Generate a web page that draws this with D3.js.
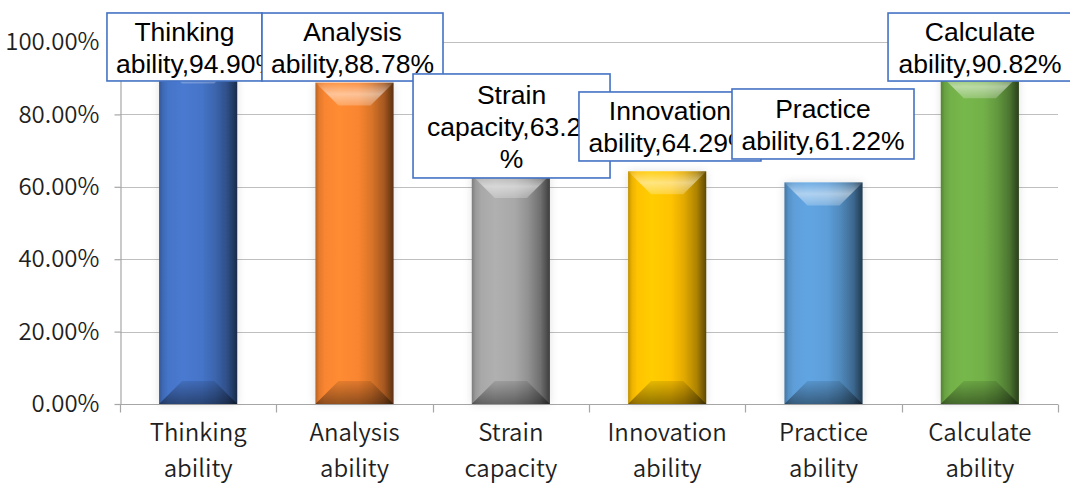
<!DOCTYPE html>
<html>
<head>
<meta charset="utf-8">
<script src="https://cdn.jsdelivr.net/npm/d3@7"></script>
<style>
  html, body { margin: 0; padding: 0; background: #ffffff; }
  svg { display: block; }
</style>
</head>
<body>
<svg id="chart" width="1070" height="483"></svg>
<script>
// ---- data ----
const categories = ["Thinking ability", "Analysis ability", "Strain capacity",
                    "Innovation ability", "Practice ability", "Calculate ability"];
const values = [0.9490, 0.8878, 0.6327, 0.6429, 0.6122, 0.9082];
const barColors = ["#4472C4", "#F5832F", "#A5A5A5", "#FFC000", "#5B9BD5", "#70AD47"];
const yTicks = [0, 0.2, 0.4, 0.6, 0.8, 1.0];

// ---- data-label callout placement, relative to each bar's top centre ----
const labelLayout = [
  { dx: -13.7, dy: -47.5,  w: 155, h: 68 },
  { dx: -2.0,  dy: -69.6,  w: 181, h: 68 },
  { dx: 0.7,   dy: -101.0, w: 197, h: 104, splitPct: true },
  { dx: 2.8,   dy: -79.3,  w: 182, h: 69 },
  { dx: -0.5,  dy: -93.4,  w: 182, h: 70 },
  { dx: 0.2,   dy: -62.2,  w: 184, h: 68 }
];

const svg = d3.select("#chart");
const margin = { left: 120, right: 12, top: 42, bottom: 79 };
const W = 1070, H = 483;

const x = d3.scaleBand()
  .domain(categories)
  .range([margin.left, W - margin.right])
  .paddingInner(0.5)
  .paddingOuter(0.25);

const y = d3.scaleLinear()
  .domain([0, 1])
  .range([H - margin.bottom, margin.top]);

const pct = d3.format(".2%");
const data = categories.map((c, i) => ({ cat: c, v: values[i], color: barColors[i], i }));
const axisFont = "'Noto Sans CJK SC', 'Noto Sans', sans-serif";

// ---- defs: bar face gradients, bevel overlays, soft shadow ----
const defs = svg.append("defs");

data.forEach(d => {
  const base = d3.color(d.color);
  const g = defs.append("linearGradient")
    .attr("id", "face" + d.i)
    .attr("x1", "0%").attr("x2", "100%").attr("y1", "0%").attr("y2", "0%");
  const stops = [
    [0.00, base.darker(0.8)],
    [0.05, base.darker(0.2)],
    [0.12, base.brighter(0.05)],
    [0.30, base.brighter(0.18)],
    [0.55, base.brighter(0.05)],
    [0.72, base.darker(0.35)],
    [0.88, base.darker(1.1)],
    [1.00, base.darker(2.8)]
  ];
  stops.forEach(([o, c]) => g.append("stop").attr("offset", o).attr("stop-color", c.formatHex()));
});

const hi = defs.append("linearGradient").attr("id", "bevelTop")
  .attr("x1", "0%").attr("x2", "0%").attr("y1", "0%").attr("y2", "100%");
hi.append("stop").attr("offset", 0).attr("stop-color", "#fff").attr("stop-opacity", 0.1);
hi.append("stop").attr("offset", 0.5).attr("stop-color", "#fff").attr("stop-opacity", 0.5);
hi.append("stop").attr("offset", 1).attr("stop-color", "#fff").attr("stop-opacity", 0.22);

const lo = defs.append("linearGradient").attr("id", "bevelBot")
  .attr("x1", "0%").attr("x2", "0%").attr("y1", "0%").attr("y2", "100%");
lo.append("stop").attr("offset", 0).attr("stop-color", "#000").attr("stop-opacity", 0.1);
lo.append("stop").attr("offset", 1).attr("stop-color", "#000").attr("stop-opacity", 0.42);

const sh = defs.append("filter").attr("id", "shadow")
  .attr("x", "-30%").attr("y", "-10%").attr("width", "160%").attr("height", "120%");
sh.append("feGaussianBlur").attr("in", "SourceAlpha").attr("stdDeviation", 4).attr("result", "b");
sh.append("feFlood").attr("flood-color", "#000").attr("flood-opacity", 0.12).attr("result", "f");
sh.append("feComposite").attr("in", "f").attr("in2", "b").attr("operator", "in").attr("result", "s");
const mg = sh.append("feMerge");
mg.append("feMergeNode").attr("in", "s");
mg.append("feMergeNode").attr("in", "SourceGraphic");

// ---- gridlines ----
const crisp = v => Math.round(v) + 0.5;
svg.append("g").selectAll("line")
  .data(yTicks.filter(t => t > 0))
  .join("line")
  .attr("x1", margin.left).attr("x2", W - margin.right)
  .attr("y1", d => crisp(y(d))).attr("y2", d => crisp(y(d)))
  .attr("stroke", "#BFBFBF").attr("stroke-width", 1.2);

// ---- y axis ----
const yAxis = svg.append("g")
  .attr("transform", `translate(${crisp(margin.left)},0)`)
  .call(d3.axisLeft(y).tickValues(yTicks).tickFormat(pct).tickSize(6).tickSizeOuter(0).tickPadding(15));
yAxis.select(".domain").attr("stroke", "#A6A6A6").attr("stroke-width", 1.2);
yAxis.selectAll(".tick line").attr("stroke", "#A6A6A6").attr("stroke-width", 1.2);
yAxis.selectAll(".tick text")
  .attr("font-family", axisFont).attr("font-weight", 350)
  .attr("font-size", 24).attr("fill", "#1f1f1f");

// ---- x axis ----
const xAxis = svg.append("g").attr("transform", `translate(0,${crisp(y(0))})`);
xAxis.append("line")
  .attr("x1", margin.left).attr("x2", W - margin.right)
  .attr("stroke", "#A6A6A6").attr("stroke-width", 1.2);
const gap = (x.step() - x.bandwidth()) / 2;
const bounds = categories.map(c => x(c) - gap)
  .concat([x(categories[categories.length - 1]) + x.bandwidth() + gap]);
xAxis.selectAll("line.tk").data(bounds).join("line").attr("class", "tk")
  .attr("x1", d => crisp(d)).attr("x2", d => crisp(d))
  .attr("y1", 0).attr("y2", 8)
  .attr("stroke", "#A6A6A6").attr("stroke-width", 1.2);
const xl = xAxis.selectAll("text").data(categories).join("text")
  .attr("text-anchor", "middle")
  .attr("font-family", axisFont).attr("font-weight", 350)
  .attr("font-size", 24).attr("fill", "#1f1f1f");
xl.each(function(c) {
  const t = d3.select(this);
  const cx = x(c) + x.bandwidth() / 2;
  c.split(" ").forEach((w, k) => {
    t.append("tspan").attr("x", cx).attr("y", 36 + k * 36).text(w);
  });
});

// ---- bars ----
const bev = 23;
const barG = svg.append("g").selectAll("g").data(data).join("g");
barG.append("rect")
  .attr("x", d => x(d.cat)).attr("y", d => y(d.v))
  .attr("width", x.bandwidth()).attr("height", d => y(0) - y(d.v))
  .attr("fill", d => `url(#face${d.i})`)
  .attr("filter", "url(#shadow)");
barG.append("path")
  .attr("d", d => {
    const a = x(d.cat), b = a + x.bandwidth(), t = y(d.v);
    return `M${a},${t}H${b}L${b - bev},${t + bev}H${a + bev}Z`;
  })
  .attr("fill", "url(#bevelTop)");
barG.append("path")
  .attr("d", d => {
    const a = x(d.cat), b = a + x.bandwidth(), t = y(0);
    return `M${a},${t}H${b}L${b - bev},${t - bev}H${a + bev}Z`;
  })
  .attr("fill", "url(#bevelBot)");

// ---- data labels (callout boxes) ----
const pad = 9, lineH = 32;
const lblG = svg.append("g").selectAll("g").data(data).join("g");
lblG.each(function(d) {
  const L = labelLayout[d.i];
  const g = d3.select(this);
  const cx = x(d.cat) + x.bandwidth() / 2 + L.dx;
  const bx = cx - L.w / 2, by = y(d.v) + L.dy;

  g.append("clipPath").attr("id", "clip" + d.i)
    .append("rect").attr("x", bx).attr("y", by).attr("width", L.w).attr("height", L.h);
  g.append("rect")
    .attr("x", bx).attr("y", by).attr("width", L.w).attr("height", L.h)
    .attr("fill", "#ffffff").attr("stroke", "#4472C4").attr("stroke-width", 1.6);

  let lines = `${d.cat},${pct(d.v)}`.split(" ");
  if (L.splitPct) {
    const last = lines[lines.length - 1];
    lines = lines.slice(0, -1).concat([last.slice(0, -1), "%"]);
  }
  const n = lines.length;
  const tg = g.append("g").attr("clip-path", `url(#clip${d.i})`);
  lines.forEach((ln, k) => {
    const t = tg.append("text")
      .attr("font-family", "'Liberation Sans', Arial, sans-serif")
      .attr("font-size", 26.5).attr("fill", "#000000")
      .attr("y", by + L.h / 2 + (k - (n - 1) / 2) * lineH + 10)
      .text(ln);
    const tw = t.node().getComputedTextLength();
    if (tw <= L.w - 2 * pad) {
      t.attr("x", cx).attr("text-anchor", "middle");
    } else {
      t.attr("x", bx + pad).attr("text-anchor", "start");
    }
  });
});
</script>
</body>
</html>
